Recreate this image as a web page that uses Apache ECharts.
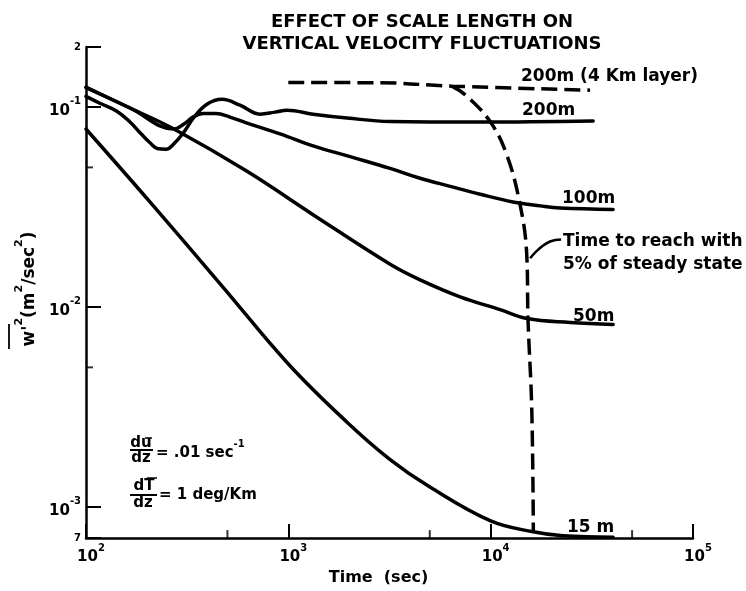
<!DOCTYPE html>
<html>
<head>
<meta charset="UTF-8">
<title>Effect of scale length on vertical velocity fluctuations</title>
<script src="https://cdn.jsdelivr.net/npm/echarts@6/dist/echarts.min.js"></script>
<style>
  html, body { margin: 0; padding: 0; background: #fff; }
  #main { width: 746px; height: 591px; }
</style>
</head>
<body>
<div id="main"></div>
<script>
// [time (sec), w'^2 (m^2/sec^2)]
var curve15m = [[100, 0.0778], [207, 0.0336], [475, 0.0126], [1000, 0.0052], [1950, 0.00266],
    [3185, 0.00173], [5010, 0.00126], [10000, 0.000853], [16200, 0.000753], [22800, 0.000719], [40300, 0.000707]];
var curve50m = [[100, 0.1256], [165, 0.0991], [272, 0.0778], [625, 0.0478], [1325, 0.0290], [3185, 0.0164],
    [4480, 0.0137], [7060, 0.01127], [11130, 0.00972], [15140, 0.00877], [24700, 0.00839], [40300, 0.0082]];
var curve100m = [[100, 0.1256], [165, 0.0991], [272, 0.0778], [305, 0.0824], [338, 0.0892], [379, 0.0929],
    [439, 0.0929], [515, 0.0892], [625, 0.0833], [910, 0.0736], [1325, 0.0641], [2020, 0.0566], [3185, 0.0494],
    [4480, 0.0441], [6300, 0.0402], [8870, 0.0367], [12900, 0.0336], [17550, 0.0321], [22000, 0.0313], [40300, 0.0308]];
var curve200m = [[100, 0.1133], [117, 0.1047], [142, 0.0955], [165, 0.0843], [187, 0.0736], [207, 0.0664],
    [227, 0.0620], [249, 0.0617], [272, 0.0656], [305, 0.0752], [342, 0.0892], [396, 0.1035], [470, 0.1095],
    [577, 0.1023], [724, 0.0923], [859, 0.0945], [986, 0.0966], [1325, 0.0923], [1950, 0.0883], [3185, 0.0848],
    [8870, 0.0843], [32100, 0.0853]];
var curve200m4km = [[1000, 0.1329], [2840, 0.1325], [6430, 0.1274], [31000, 0.1217]];
// time to reach within 5% of steady state
var reachTime = [[6430, 0.1274], [7620, 0.1137], [10000, 0.0840], [12030, 0.0575], [13970, 0.0326],
    [15070, 0.01845], [15300, 0.00865], [15960, 0.00312], [16250, 0.000761]];
var leader = [[22290, 0.0218], [19660, 0.0213], [15670, 0.01755]];
// 5x minor ticks
var xMinorTicks = [[500, 0.0007], [5000, 0.0007], [50000, 0.0007]];
var yMinorTicks = [[100, 0.05], [100, 0.005]];

var FONT = 'DejaVu Sans';

var chart = echarts.init(document.getElementById('main'));

function powLabel(v) {
    var e = Math.log10(v);
    var r = Math.round(e);
    if (Math.abs(e - r) < 1e-6) {
        return '{b|10}{s|' + (r < 0 ? '-' + (-r) : r) + '}';
    }
    var m = Math.round(v / Math.pow(10, Math.floor(e)));
    return '{m|' + m + '}';
}

var labelRich = {
    b: { fontFamily: FONT, fontSize: 15, fontWeight: 'bold', color: '#000', lineHeight: 22, verticalAlign: 'bottom' },
    s: { fontFamily: FONT, fontSize: 10, fontWeight: 'bold', color: '#000', verticalAlign: 'top' },
    m: { fontFamily: FONT, fontSize: 10, fontWeight: 'bold', color: '#000' }
};

function solid(data) {
    return {
        type: 'line', data: data, showSymbol: false, symbol: 'none', smooth: 0.4,
        lineStyle: { color: '#000', width: 3.5, cap: 'round' }, silent: true, z: 3
    };
}
function dashed(data) {
    return {
        type: 'line', data: data, showSymbol: false, symbol: 'none', smooth: 0.4,
        lineStyle: { color: '#000', width: 3.5, type: [16, 7] }, silent: true, z: 4
    };
}

var txt = function (x, y, s, size, align) {
    return {
        type: 'text', x: x, y: y, silent: true,
        style: { text: s, fill: '#000', fontFamily: FONT, fontSize: size || 17, fontWeight: 'bold',
            align: align || 'left', verticalAlign: 'middle' }
    };
};
var bar = function (x1, y1, x2, y2, w) {
    return { type: 'line', silent: true, shape: { x1: x1, y1: y1, x2: x2, y2: y2 },
        style: { stroke: '#000', lineWidth: w || 2 } };
};
var supRich = {
    t: { fontFamily: FONT, fontSize: 15, fontWeight: 'bold', lineHeight: 22, verticalAlign: 'bottom' },
    s: { fontFamily: FONT, fontSize: 10, fontWeight: 'bold', verticalAlign: 'top' }
};
var yTitleRich = {
    t: { fontFamily: FONT, fontSize: 17, fontWeight: 'bold', lineHeight: 24, verticalAlign: 'bottom' },
    s: { fontFamily: FONT, fontSize: 11, fontWeight: 'bold', verticalAlign: 'top' }
};

var option = {
    animation: false,
    backgroundColor: '#fff',
    title: {
        text: 'EFFECT OF SCALE LENGTH ON\nVERTICAL VELOCITY FLUCTUATIONS',
        left: 417, top: 6, textAlign: 'center',
        textStyle: { fontFamily: FONT, fontSize: 18, fontWeight: 'bold', color: '#000', lineHeight: 22 }
    },
    grid: { left: 86, right: 53, top: 47, bottom: 47 },
    xAxis: {
        type: 'log', logBase: 10, min: 100, max: 100000,
        axisLine: { lineStyle: { color: '#000', width: 2.5 } },
        axisTick: { inside: true, length: 14, lineStyle: { color: '#000', width: 2 } },
        axisLabel: { margin: 5, formatter: powLabel, rich: labelRich, padding: [0, 0, 0, 10] },
        splitLine: { show: false },
        name: 'Time  (sec)', nameLocation: 'middle', nameGap: 25,
        nameTextStyle: { fontFamily: FONT, fontSize: 16, fontWeight: 'bold', color: '#000', padding: [0, 22, 0, 0] }
    },
    yAxis: {
        type: 'log', logBase: 10, min: 0.0007, max: 0.2,
        axisLine: { lineStyle: { color: '#000', width: 2.5 } },
        axisTick: { inside: true, length: 15, lineStyle: { color: '#000', width: 2 } },
        axisLabel: { margin: 5, formatter: powLabel, rich: labelRich },
        splitLine: { show: false }
    },
    series: [
        solid(curve15m), solid(curve50m), solid(curve100m), solid(curve200m),
        dashed(curve200m4km), dashed(reachTime),
        { type: 'line', data: leader, showSymbol: false, symbol: 'none', smooth: 0.5,
          lineStyle: { color: '#000', width: 2.5 }, silent: true },
        { type: 'scatter', data: xMinorTicks, symbol: 'rect', symbolSize: [2, 8], symbolOffset: [0, -4],
          itemStyle: { color: '#000' }, clip: false, silent: true },
        { type: 'scatter', data: yMinorTicks, symbol: 'rect', symbolSize: [7, 2], symbolOffset: [3.5, 0],
          itemStyle: { color: '#000' }, clip: false, silent: true }
    ],
    graphic: [
        // y axis title, overbar on w'^2
        { type: 'text', x: 26, y: 289, rotation: Math.PI / 2, silent: true,
          style: { text: "{t|w'}{s|2}{t|(m}{s|2}{t|/sec}{s|2}{t|)}", rich: yTitleRich, fill: '#000',
                   align: 'center', verticalAlign: 'middle' } },
        bar(9, 324, 9, 349, 1.8),
        // curve labels
        txt(521, 77, '200m (4 Km layer)'),
        txt(522, 111, '200m'),
        txt(562, 199, '100m'),
        txt(563, 242, 'Time to reach with'),
        txt(563, 265, '5% of steady state'),
        txt(573, 317, '50m'),
        txt(567, 528, '15 m'),
        // shear and lapse-rate notes
        txt(141, 443, 'du', 15, 'center'),
        bar(145, 438, 152, 438, 1.5),
        bar(130, 450, 153, 450, 2),
        txt(141, 458, 'dz', 15, 'center'),
        { type: 'text', x: 156, y: 450, silent: true,
          style: { text: '{t|= .01 sec}{s|-1}', rich: supRich, fill: '#000', verticalAlign: 'middle' } },
        txt(144, 486, 'dT', 15, 'center'),
        bar(147, 478, 157, 478, 1.5),
        bar(130, 495, 157, 495, 2),
        txt(143, 503, 'dz', 15, 'center'),
        txt(159, 495, '= 1 deg/Km', 15)
    ]
};

chart.setOption(option);
</script>
</body>
</html>
